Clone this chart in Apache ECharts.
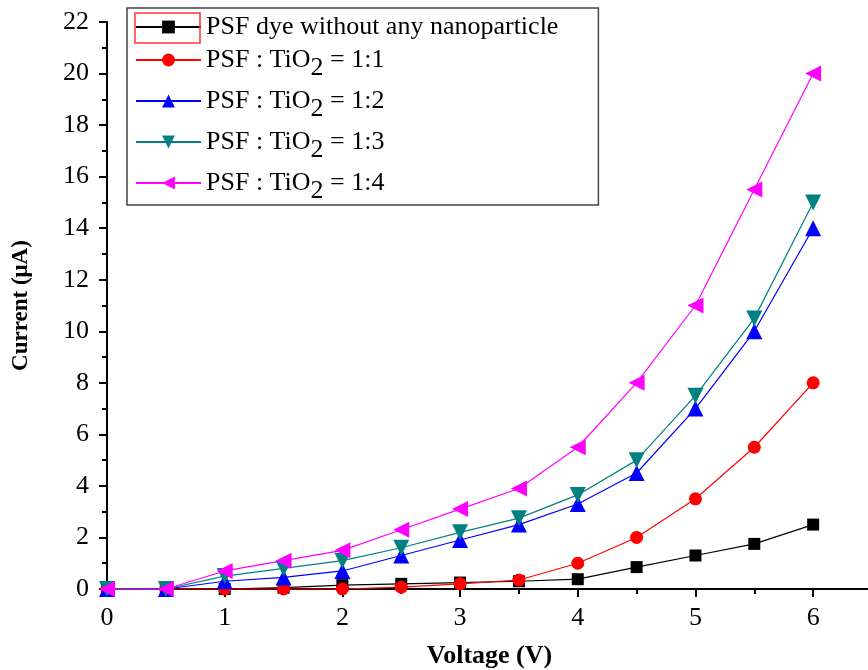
<!DOCTYPE html>
<html><head><meta charset="utf-8">
<script src="https://cdn.jsdelivr.net/npm/echarts@6/dist/echarts.min.js"></script>
<style>html,body{margin:0;padding:0;background:#fff}#c{width:868px;height:670px}</style>
</head><body><div id="c"></div>
<script>
const voltage = [0, 0.5, 1, 1.5, 2, 2.5, 3, 3.5, 4, 4.5, 5, 5.5, 6];
const psfDye  = [0, 0, 0, 0.05, 0.15, 0.2, 0.25, 0.3, 0.38, 0.85, 1.3, 1.75, 2.5];
const tio2_11 = [0, 0, 0, 0, 0, 0.07, 0.2, 0.35, 1.0, 2.0, 3.5, 5.5, 8.0];
const tio2_12 = [0, 0, 0.3, 0.45, 0.7, 1.3, 1.9, 2.5, 3.3, 4.5, 7.0, 10.0, 14.0];
const tio2_13 = [0, 0, 0.5, 0.8, 1.1, 1.6, 2.2, 2.75, 3.65, 5.0, 7.5, 10.5, 15.0];
const tio2_14 = [0, 0, 0.7, 1.1, 1.5, 2.3, 3.1, 3.9, 5.5, 8.0, 11.0, 15.5, 20.0];
const seriesNames = ['PSF dye without any nanoparticle', 'PSF : TiO2 = 1:1', 'PSF : TiO2 = 1:2', 'PSF : TiO2 = 1:3', 'PSF : TiO2 = 1:4'];
const legendLabels = {
  'PSF dye without any nanoparticle': '{m|PSF dye without any nanoparticle}',
  'PSF : TiO2 = 1:1': '{m|PSF : TiO}{s|2}{m| = 1:1}',
  'PSF : TiO2 = 1:2': '{m|PSF : TiO}{s|2}{m| = 1:2}',
  'PSF : TiO2 = 1:3': '{m|PSF : TiO}{s|2}{m| = 1:3}',
  'PSF : TiO2 = 1:4': '{m|PSF : TiO}{s|2}{m| = 1:4}'
};
const colors = ['#000000', '#ff0000', '#0000ff', '#008080', '#ff00ff'];
const symbols = ['rect', 'circle', 'triangle', 'triangle', 'triangle'];
const rotations = [0, 0, 0, 180, 90];
const sizes = [12, 13, 16, 16, 16];
const values = [psfDye, tio2_11, tio2_12, tio2_13, tio2_14];

const font = '"Liberation Serif", "Times New Roman", serif';
const chart = echarts.init(document.getElementById('c'));
chart.setOption({
  animation: false,
  backgroundColor: '#fff',
  grid: { left: 107, top: 22, width: 765, height: 567, containLabel: false, outerBoundsMode: 'none' },
  xAxis: {
    type: 'value', min: 0, max: 6.5, interval: 1,
    name: 'Voltage (V)', nameLocation: 'middle', nameGap: 54,
    nameTextStyle: { fontFamily: font, fontSize: 26, fontWeight: 'bold', color: '#000' },
    axisLine: { onZero: false, lineStyle: { color: '#000', width: 2 } },
    axisTick: { inside: false, length: 8, lineStyle: { color: '#000', width: 2 } },
    minorTick: { show: true, splitNumber: 2, length: 5, lineStyle: { color: '#000', width: 2 } },
    axisLabel: { fontFamily: font, fontSize: 26, color: '#000', margin: 16,
      formatter: v => (v > 6 ? '' : String(v)) },
    splitLine: { show: false }
  },
  yAxis: {
    type: 'value', min: 0, max: 22, interval: 2,
    name: 'Current (μA)', nameLocation: 'middle', nameGap: 74,
    nameTextStyle: { fontFamily: font, fontSize: 23, fontWeight: 'bold', color: '#000' },
    axisLine: { onZero: false, lineStyle: { color: '#000', width: 2 } },
    axisTick: { inside: false, length: 8, lineStyle: { color: '#000', width: 2 } },
    minorTick: { show: true, splitNumber: 2, length: 5, lineStyle: { color: '#000', width: 2 } },
    axisLabel: { fontFamily: font, fontSize: 26, color: '#000', margin: 18 },
    splitLine: { show: false }
  },
  legend: {
    orient: 'vertical', left: 127, top: 8,
    padding: [6, 40, 1, 8], itemGap: 7, itemWidth: 65, itemHeight: 16,
    borderColor: '#444', borderWidth: 1.5, backgroundColor: '#fff',
    data: seriesNames,
    formatter: n => legendLabels[n],
    textStyle: {
      fontFamily: font, fontSize: 26, color: '#000',
      rich: {
        m: { fontFamily: font, fontSize: 26, color: '#000', lineHeight: 28, verticalAlign: 'middle' },
        s: { fontFamily: font, fontSize: 26, color: '#000', lineHeight: 42, verticalAlign: 'bottom' }
      }
    }
  },
  graphic: [{
    type: 'rect', z: 100,
    shape: { x: 135, y: 13, width: 65, height: 30 },
    style: { fill: 'none', stroke: '#ff3333', lineWidth: 1.5 }
  }],
  series: seriesNames.map((name, i) => ({
    name, type: 'line',
    data: voltage.map((x, j) => [x, values[i][j]]),
    symbol: symbols[i], symbolSize: sizes[i], symbolRotate: rotations[i],
    smooth: false,
    lineStyle: { color: colors[i], width: 1.2 },
    itemStyle: { color: colors[i] },
    clip: false
  }))
});
</script></body></html>
